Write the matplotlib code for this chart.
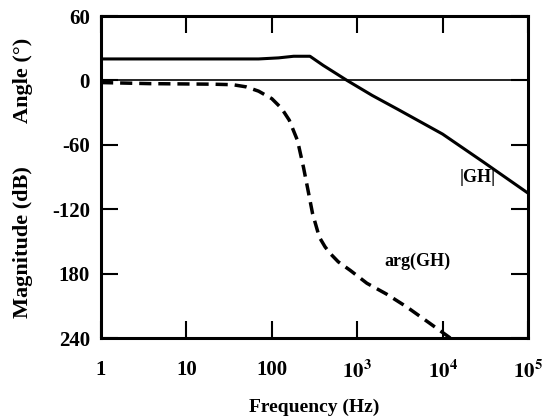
import numpy as np
import matplotlib.pyplot as plt

# values
freq_mag = [1, 10, 70, 120, 180, 280, 400, 760, 1500, 3000, 1e4, 3e4, 1e5]
mag_db = [20, 20, 20, 21, 22.5, 22.5, 14, 0, -14, -27, -50, -76, -105]

freq_arg = [1, 3.7, 20, 35, 50, 70, 100, 130, 160, 200, 235, 265, 300, 360,
            420, 480, 600, 830, 1300, 2200, 3800, 7000, 12300]
arg_deg = [-2, -3, -3.5, -4, -6, -10, -17, -26, -37, -56, -81, -102, -124, -146,
           -155, -161, -169, -177, -189, -199, -211, -226, -240]

xticks = [1, 10, 100, 1e3, 1e4, 1e5]
xlabels = ["1", "10", "100", "$\\mathbf{10^3}$", "$\\mathbf{10^4}$", "$\\mathbf{10^5}$"]
yticks = [60, 0, -60, -120, -180, -240]
ylabels = ["60", "0", "-60", "-120", "180", "240"]

plt.rcParams['font.family'] = ['Liberation Serif', 'DejaVu Serif']
plt.rcParams['font.weight'] = 'bold'
plt.rcParams['axes.labelweight'] = 'bold'
plt.rcParams['mathtext.fontset'] = 'stix'

fig = plt.figure(figsize=(5.56, 4.17), dpi=100)
ax = fig.add_axes([0.1817, 0.1894, 0.9496 - 0.1817, 0.9616 - 0.1894])

ax.plot(freq_mag, mag_db, color="black", lw=2.2)
ax.plot(freq_arg, arg_deg, color="black", lw=2.5, dashes=(3.5, 2))
ax.axhline(0, color="black", lw=1.2)

ax.set_xscale("log")
ax.set_xlim(1, 1e5)
ax.set_ylim(-240, 60)
ax.set_xticks(xticks)
ax.set_xticklabels(xlabels)
ax.set_yticks(yticks)
ax.set_yticklabels(ylabels)
ax.minorticks_off()
ax.tick_params(direction="in", length=12, width=1.5, top=True, right=True,
               labelsize=15)
ax.tick_params(axis="x", pad=16)
ax.tick_params(axis="y", pad=8)
for s in ax.spines.values():
    s.set_linewidth(2.2)

ax.text(1.6e4, -95, "|GH|", fontsize=13)
ax.text(2.1e3, -173, "arg(GH)", fontsize=13)

ax.set_xlabel("Frequency (Hz)", fontsize=14, fontweight="bold", labelpad=12)
fig.text(0.042, 1 - 80 / 417, "Angle (\u00b0)", rotation=90,
         fontsize=16, va="center", ha="center")
fig.text(0.042, 1 - 242 / 417, "Magnitude (dB)", rotation=90,
         fontsize=16, va="center", ha="center")

fig.savefig("out.png", dpi=100)
